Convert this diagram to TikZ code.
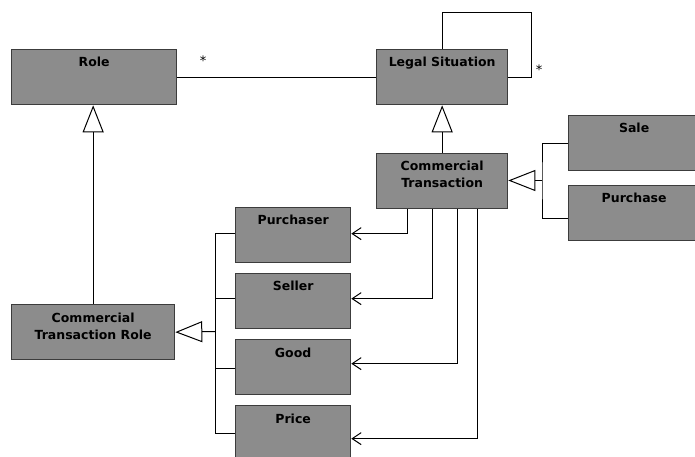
\documentclass[tikz,border=0pt]{standalone}
\usepackage{fontspec}
\setmainfont{DejaVu Sans}
\usetikzlibrary{arrows.meta}

\definecolor{boxfill}{RGB}{140,140,140}
\definecolor{boxline}{RGB}{60,60,60}

\tikzset{
	cls/.style={draw=boxline, line width=1.3pt, fill=boxfill, anchor=north west, minimum height=55pt, inner sep=0pt},
	ttl/.style={anchor=north, yshift=-5pt, align=center, inner sep=3pt, font=\bfseries\fontsize{12.5}{17}\selectfont},
	mult/.style={font=\fontsize{13}{14}\selectfont, inner sep=1pt},
	gen/.style={-{Triangle[open, length=27pt, width=21pt, fill=white]}},
	assoc/.style={-{Straight Barb[length=9pt, width=12pt]}}
}

\begin{document}
\begin{tikzpicture}[x=1pt,y=-1pt,line width=1pt]
			\useasboundingbox (0,0) rectangle (695,457);
			
			% Classes
			\node[cls, minimum width=165pt, label={[ttl]north:Role}] (role) at (11,49) {};
			\node[cls, minimum width=131pt, label={[ttl]north:Legal Situation}] (legal) at (376,49) {};
			\node[cls, minimum width=131pt, label={[ttl]north:{Commercial\\Transaction}}] (ct) at (376,153) {};
			\node[cls, minimum width=131pt, label={[ttl]north:Sale}] (sale) at (568,115) {};
			\node[cls, minimum width=131pt, label={[ttl]north:Purchase}] (purchase) at (568,185) {};
			\node[cls, minimum width=163pt, label={[ttl]north:{Commercial\\Transaction Role}}] (ctr) at (11,304) {};
			\node[cls, minimum width=115pt, label={[ttl]north:Purchaser}] (purchaser) at (235,207) {};
			\node[cls, minimum width=115pt, label={[ttl]north:Seller}] (seller) at (235,273) {};
			\node[cls, minimum width=115pt, label={[ttl]north:Good}] (good) at (235,339) {};
			\node[cls, minimum width=115pt, label={[ttl]north:Price}] (price) at (235,405) {};
			
			% Associations
			\draw (role.east) -- (legal.west);
			\draw (legal.north) |- ++(89,-36) |- (legal.east);
			\node[mult] (m1) at (203,61) {*};
			\node[mult] (m2) at (539,70) {*};
			
			% Generalizations
			\draw[gen] (ct.north) -- (legal.south);
			\draw[gen] (ctr.north) -- (ctr.north |- role.south);
			
			\coordinate (sj) at (542,180.5);
			\draw[gen] (sj) -- (sj -| ct.east);
			\draw (sale.west) -| (sj) |- ([yshift=-5.5pt]purchase.west);
			
			\coordinate (rj) at (215,331.5);
			\draw[gen] (rj) -- (ctr.east);
			\foreach \n/\d in {purchaser/1.5,seller/2.5,good/-1.5,price/-0.5}
				\draw (rj) |- ([yshift=\d pt]\n.west);
			
			% Roles of the transaction
			\foreach \n/\dx/\d in {purchaser/31/1.5,seller/56/2.5,good/81/3.5,price/101/-5.5}
				\draw[assoc] ([xshift=\dx pt]ct.south west) |- ([yshift=\d pt]\n.east);
\end{tikzpicture}
\end{document}
